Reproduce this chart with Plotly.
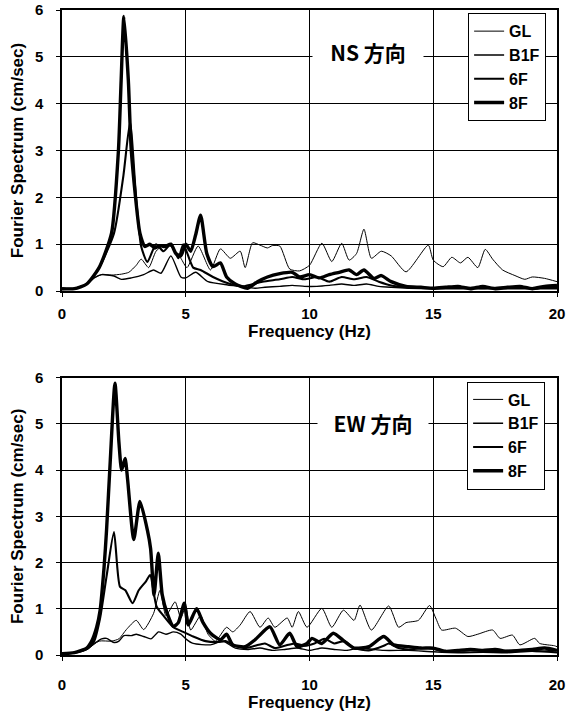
import plotly.graph_objects as go
from plotly.subplots import make_subplots

series_names = ["GL", "B1F", "6F", "8F"]
line_widths = [1.0, 1.4, 2.1, 3.4]

# ---------------- NS direction ----------------
ns_gl_f = [0, 0.5, 1.0, 1.3, 1.6, 2.0, 2.4, 2.7, 3.0, 3.2, 3.5, 3.8, 4.1, 4.4, 4.8, 5.05, 5.5, 6.0, 6.4, 6.8, 7.2, 7.4, 7.7, 8.0, 8.3, 8.5, 8.8, 9.2, 9.6, 10.0, 10.5, 10.9, 11.3, 11.6, 11.9, 12.2, 12.5, 12.9, 13.3, 13.9, 14.8, 15.0, 15.4, 15.75, 16.1, 16.4, 16.8, 17.1, 17.4, 17.8, 18.3, 18.7, 19.0, 19.5, 20]
ns_gl_v = [0.05, 0.05, 0.15, 0.28, 0.35, 0.34, 0.36, 0.4, 0.55, 0.68, 0.5, 0.85, 0.98, 0.95, 0.7, 0.5, 0.96, 0.45, 0.9, 0.7, 0.85, 0.5, 1.03, 0.98, 0.92, 0.97, 0.96, 0.47, 0.43, 0.55, 1.02, 0.63, 1.02, 0.66, 0.8, 1.32, 0.7, 0.85, 0.75, 0.41, 0.98, 0.66, 0.52, 0.72, 0.6, 0.72, 0.5, 0.89, 0.68, 0.45, 0.33, 0.25, 0.3, 0.27, 0.2]

ns_b1f_f = [0, 0.5, 1.0, 1.3, 1.6, 2.1, 2.4, 2.8, 3.3, 3.7, 4.0, 4.4, 4.8, 5.0, 5.4, 5.9, 6.7, 7.2, 7.8, 8.2, 8.8, 9.3, 9.8, 10.3, 10.8, 11.3, 11.8, 12.3, 12.8, 13.3, 14, 15, 16, 17, 18, 19, 20]
ns_b1f_v = [0.03, 0.05, 0.15, 0.28, 0.35, 0.32, 0.25, 0.28, 0.35, 0.45, 0.38, 0.75, 0.3, 0.28, 0.4, 0.2, 0.13, 0.1, 0.06, 0.08, 0.1, 0.12, 0.1, 0.1, 0.12, 0.15, 0.12, 0.15, 0.1, 0.08, 0.06, 0.05, 0.05, 0.05, 0.05, 0.05, 0.05]

ns_6f_f = [0, 0.5, 1.0, 1.5, 2.1, 2.48, 2.75, 3.0, 3.2, 3.45, 3.8, 4.1, 4.4, 4.7, 4.9, 5.3, 5.6, 6.1, 6.8, 7.3, 8.1, 8.8, 9.3, 9.8, 10.3, 10.8, 11.3, 11.8, 12.3, 12.8, 13.3, 14, 15, 16, 17, 18, 19, 20]
ns_6f_v = [0.05, 0.05, 0.15, 0.5, 1.23, 2.46, 3.6, 1.95, 0.95, 0.62, 1.0, 0.85, 1.0, 0.7, 1.0, 0.5, 0.45, 0.3, 0.15, 0.1, 0.2, 0.25, 0.3, 0.25, 0.3, 0.2, 0.3, 0.25, 0.3, 0.2, 0.12, 0.08, 0.06, 0.08, 0.06, 0.08, 0.06, 0.08]

ns_8f_f = [0, 0.5, 1.0, 1.5, 2.0, 2.28, 2.39, 2.5, 2.68, 2.8, 3.15, 3.35, 3.55, 3.75, 3.95, 4.15, 4.4, 4.6, 4.8, 5.0, 5.2, 5.4, 5.6, 5.85, 6.1, 6.4, 6.65, 7.0, 7.5, 7.9, 8.3, 8.8, 9.3, 9.6, 10.0, 10.4, 10.8, 11.2, 11.6, 11.9, 12.2, 12.6, 12.9, 13.3, 13.9, 14.5, 15, 15.5, 16, 16.5, 17, 17.5, 18, 18.5, 19, 19.5, 20]
ns_8f_v = [0.05, 0.05, 0.15, 0.5, 1.23, 3.0, 4.5, 5.86, 4.5, 3.0, 1.23, 0.95, 1.0, 0.92, 0.97, 0.95, 1.0, 0.8, 0.75, 1.0, 0.85, 1.2, 1.62, 0.8, 0.52, 0.6, 0.3, 0.15, 0.06, 0.2, 0.3, 0.37, 0.4, 0.3, 0.35, 0.28, 0.35, 0.4, 0.45, 0.35, 0.45, 0.27, 0.33, 0.2, 0.1, 0.08, 0.06, 0.08, 0.1, 0.05, 0.1, 0.05, 0.08, 0.1, 0.05, 0.1, 0.12]

# ---------------- EW direction ----------------
ew_gl_f = [0, 0.5, 1.0, 1.5, 2.0, 2.3, 2.6, 3.0, 3.3, 3.7, 3.96, 4.2, 4.57, 4.8, 5.0, 5.2, 5.6, 5.9, 6.2, 6.65, 6.9, 7.2, 7.6, 8.0, 8.33, 8.6, 9.1, 9.3, 9.55, 9.9, 10.5, 10.9, 11.37, 11.8, 12.04, 12.5, 13.2, 13.6, 13.9, 14.4, 14.85, 15.1, 15.34, 15.9, 16.4, 16.8, 17.4, 17.7, 18.2, 18.5, 19.1, 19.3, 19.9, 20]
ew_gl_v = [0.03, 0.05, 0.12, 0.3, 0.3, 0.35, 0.55, 0.75, 0.55, 0.9, 1.4, 0.85, 1.15, 0.8, 1.05, 0.54, 0.85, 0.45, 0.3, 0.6, 0.5, 0.65, 0.94, 0.6, 0.8, 0.6, 0.8, 0.6, 0.94, 0.6, 1.01, 0.6, 0.97, 0.75, 1.08, 0.54, 1.06, 0.6, 0.7, 0.75, 1.07, 0.8, 0.54, 0.58, 0.4, 0.45, 0.54, 0.36, 0.43, 0.22, 0.36, 0.25, 0.2, 0.18]

ew_b1f_f = [0, 0.5, 1.0, 1.3, 1.6, 1.8, 2.1, 2.3, 2.5, 2.8, 3.0, 3.3, 3.6, 3.9, 4.2, 4.5, 4.8, 5.0, 5.3, 6.0, 6.5, 7.0, 7.5, 8.0, 8.5, 9.0, 9.5, 10, 10.5, 11, 11.5, 12, 13, 14, 15, 16, 17, 18, 19, 20]
ew_b1f_v = [0.03, 0.05, 0.12, 0.25, 0.35, 0.36, 0.27, 0.3, 0.42, 0.42, 0.45, 0.4, 0.35, 0.5, 0.45, 0.5, 0.45, 0.35, 0.25, 0.22, 0.3, 0.15, 0.12, 0.15, 0.1, 0.12, 0.15, 0.1, 0.15, 0.12, 0.1, 0.15, 0.1, 0.1, 0.07, 0.05, 0.06, 0.05, 0.08, 0.05]

ew_6f_f = [0, 0.5, 1.0, 1.3, 1.54, 1.8, 2.1, 2.34, 2.56, 2.85, 3.1, 3.4, 3.56, 3.82, 4.1, 4.5, 4.9, 5.3, 5.8, 6.3, 6.6, 7.0, 7.4, 7.8, 8.2, 8.6, 9.0, 9.4, 9.8, 10.2, 10.6, 11.0, 11.4, 11.8, 12.4, 13.0, 13.2, 13.6, 14.0, 14.8, 15.5, 16.5, 17.5, 18.5, 19.5, 20]
ew_6f_v = [0.03, 0.05, 0.13, 0.3, 0.8, 1.7, 2.66, 1.48, 1.4, 1.12, 1.4, 1.6, 1.73, 1.05, 0.85, 0.6, 0.5, 0.4, 0.3, 0.28, 0.3, 0.2, 0.15, 0.2, 0.25, 0.15, 0.2, 0.25, 0.2, 0.25, 0.35, 0.25, 0.3, 0.15, 0.1, 0.2, 0.25, 0.15, 0.12, 0.15, 0.08, 0.1, 0.08, 0.1, 0.08, 0.1]

ew_8f_f = [0, 0.5, 1.0, 1.2, 1.4, 1.54, 1.7, 1.8, 1.95, 2.14, 2.3, 2.41, 2.55, 2.65, 2.9, 3.15, 3.45, 3.58, 3.72, 3.89, 4.05, 4.25, 4.5, 4.7, 4.94, 5.1, 5.44, 5.7, 6.0, 6.4, 6.65, 6.9, 7.4, 7.8, 8.4, 8.8, 9.2, 9.5, 9.9, 10.1, 10.5, 10.96, 11.4, 11.8, 12.4, 13.0, 13.4, 14.0, 14.5, 15, 15.5, 16, 16.5, 17, 17.5, 18, 18.5, 19, 19.5, 20]
ew_8f_v = [0.03, 0.05, 0.15, 0.3, 0.6, 0.97, 1.9, 2.7, 4.2, 5.88, 4.6, 4.0, 4.25, 3.8, 2.5, 3.32, 2.7, 2.3, 1.3, 2.2, 1.3, 0.9, 0.62, 0.7, 1.12, 0.65, 1.0, 0.7, 0.47, 0.33, 0.45, 0.22, 0.18, 0.33, 0.61, 0.22, 0.47, 0.18, 0.25, 0.36, 0.25, 0.47, 0.3, 0.15, 0.18, 0.4, 0.22, 0.18, 0.15, 0.15, 0.08, 0.1, 0.12, 0.1, 0.12, 0.08, 0.1, 0.12, 0.15, 0.1]

x_ticks = [0, 5, 10, 15, 20]
y_ticks = [0, 1, 2, 3, 4, 5, 6]
x_title = "Frequency (Hz)"
y_title = "Fourier Spectrum (cm/sec)"
panel_labels = ["NS 方向", "EW 方向"]

panels = [
    [(ns_gl_f, ns_gl_v), (ns_b1f_f, ns_b1f_v), (ns_6f_f, ns_6f_v), (ns_8f_f, ns_8f_v)],
    [(ew_gl_f, ew_gl_v), (ew_b1f_f, ew_b1f_v), (ew_6f_f, ew_6f_v), (ew_8f_f, ew_8f_v)],
]

FONT = "Liberation Sans, Arial, sans-serif"

fig = make_subplots(rows=2, cols=1, vertical_spacing=0.134)

for r, panel in enumerate(panels, start=1):
    leg = "legend" if r == 1 else "legend2"
    for name, lw, (f, v) in zip(series_names, line_widths, panel):
        fig.add_trace(
            go.Scatter(
                x=f, y=v, mode="lines", name=name,
                line=dict(color="black", width=lw, shape="spline", smoothing=0.6),
                legend=leg, legendgroup=f"{leg}_{name}", showlegend=True,
            ),
            row=r, col=1,
        )

axis_common = dict(
    showline=True, linecolor="black", linewidth=1.5, mirror=True,
    showgrid=True, gridcolor="black", gridwidth=1,
    ticks="outside", ticklen=4, tickcolor="black",
    tickfont=dict(family=FONT, size=15, color="black", weight="bold"),
    zeroline=False, automargin=False,
)
title_font = dict(family=FONT, size=17, color="black", weight="bold")

for r, tstand in ((1, 4), (2, 11)):
    fig.update_xaxes(range=[0, 20], tickvals=x_ticks, **axis_common, ticklabelstandoff=tstand,
                     title=dict(text=x_title, font=title_font, standoff=2),
                     row=r, col=1)
    fig.update_yaxes(range=[0, 6], tickvals=y_ticks, **axis_common, ticklabelstandoff=10,
                     title=dict(text=y_title, font=title_font, standoff=7),
                     row=r, col=1)

legend_common = dict(
    xanchor="right", yanchor="top",
    bgcolor="white", bordercolor="black", borderwidth=1,
    font=dict(family=FONT, size=16, color="black", weight="bold"),
    itemwidth=30, tracegroupgap=0,
)

fig.update_layout(
    width=567, height=713,
    margin=dict(l=62, r=10, t=10, b=58),
    paper_bgcolor="white", plot_bgcolor="white",
    font=dict(family=FONT, color="black"),
    legend=dict(x=0.978, y=0.995, **legend_common),
    legend2=dict(x=0.976, y=0.424, **legend_common),
)

fig.update_yaxes(domain=[0.5643, 1.0], row=1, col=1)
fig.update_yaxes(domain=[0.0, 0.430], row=2, col=1)

ann_pos = [("x domain", "y domain", 0.618, 0.85), ("x2 domain", "y2 domain", 0.628, 0.837)]
for (xr, yr, ax_, ay_), label in zip(ann_pos, panel_labels):
    fig.add_annotation(
        xref=xr, yref=yr, x=ax_, y=ay_, text=label, showarrow=False,
        xanchor="center", yanchor="middle",
        font=dict(family="Noto Sans CJK JP", size=21, color="black", weight="bold"),
        bgcolor="white", width=108, height=32,
    )

fig.write_html("out.html", post_script="document.body.style.margin='0';",
               config={"displayModeBar": False})
